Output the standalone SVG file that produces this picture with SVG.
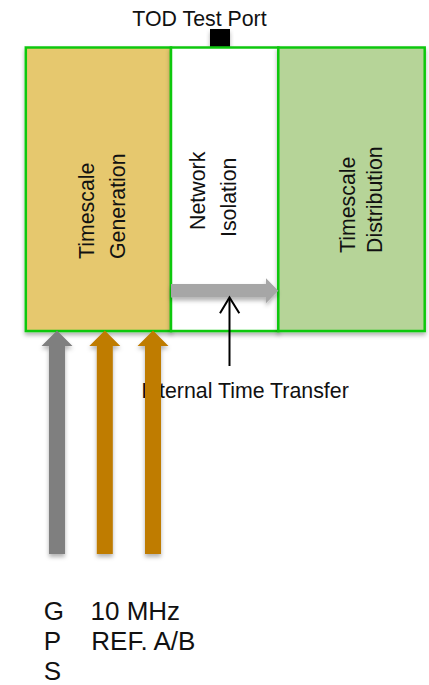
<svg xmlns="http://www.w3.org/2000/svg" width="429" height="685" viewBox="0 0 429 685">
<style>
  text { font-family: "Liberation Sans", Arial, sans-serif; fill: #111; }
  .t { font-size: 21.33px; }
  .b { font-size: 26px; }
  .box { stroke: #10C810; stroke-width: 2.5; }
  .up-gray { fill: #7F7F7F; }
  .up-orange { fill: #BF7B00; }
  .transfer { fill: #A6A6A6; }
  .pointer { fill: none; stroke: #000; stroke-width: 2; }
</style>
<defs>
  <filter id="shadow" x="-20%" y="-20%" width="140%" height="140%">
    <feDropShadow dx="0" dy="3" stdDeviation="2" flood-color="#000" flood-opacity="0.3"/>
  </filter>
</defs>

<g id="tod-test-port">
  <text class="t" x="132.3" y="25.7">TOD Test Port</text>
  <rect x="210" y="29" width="20" height="18" fill="#000" filter="url(#shadow)"/>
</g>

<g id="timescale-generation">
  <rect class="box" x="25.8" y="47.5" width="145.2" height="283.5" fill="#E6C86E" filter="url(#shadow)"/>
  <text class="t" transform="translate(94,259) rotate(-90)">Timescale</text>
  <text class="t" transform="translate(124.5,259) rotate(-90)">Generation</text>
</g>

<g id="network-isolation">
  <rect class="box" x="171" y="47.5" width="107.3" height="283.5" fill="#FFFFFF" filter="url(#shadow)"/>
  <text class="t" transform="translate(205,229.9) rotate(-90)">Network</text>
  <text class="t" transform="translate(236,237) rotate(-90)">Isolation</text>
</g>

<g id="timescale-distribution">
  <rect class="box" x="278.3" y="47.5" width="146.4" height="283.5" fill="#B6D498" filter="url(#shadow)"/>
  <text class="t" transform="translate(355,253) rotate(-90)">Timescale</text>
  <text class="t" transform="translate(381.6,253) rotate(-90)">Distribution</text>
</g>

<g id="internal-time-transfer-label">
  <text class="t" x="141.3" y="397.7">Internal Time Transfer</text>
</g>

<g id="input-labels">
  <text class="b" x="43.7" y="619.5">G</text>
  <text class="b" x="43.7" y="649.5">P</text>
  <text class="b" x="43.7" y="679.5">S</text>
  <text class="b" x="90.5" y="619.5">10 MHz</text>
  <text class="b" x="91.3" y="649.5">REF. A/B</text>
</g>

<g id="connectors">
  <polygon class="transfer" filter="url(#shadow)" points="171,284 266,284 266,278.3 278.3,290.8 266,303.3 266,297.5 171,297.5"/>
  <polygon class="up-gray" filter="url(#shadow)" points="57,330.5 72.5,346 65,346 65,554 49,554 49,346 41.5,346"/>
  <polygon class="up-orange" filter="url(#shadow)" points="104.8,330.5 120.3,346 112.8,346 112.8,554 96.8,554 96.8,346 89.3,346"/>
  <polygon class="up-orange" filter="url(#shadow)" points="153,330.5 168.5,346 161,346 161,554 145,554 145,346 137.5,346"/>
  <line class="pointer" x1="229.5" y1="366" x2="229.5" y2="298"/>
  <polyline class="pointer" points="220,313.3 229.5,297.5 239.3,313.3"/>
</g>
</svg>
